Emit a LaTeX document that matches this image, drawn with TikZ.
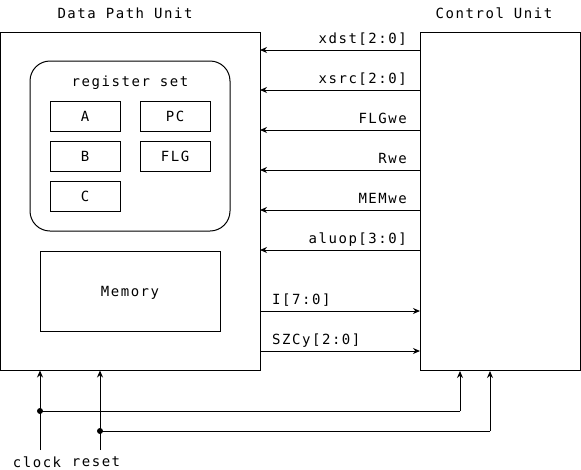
\documentclass[tikz,border=0pt]{standalone}
\usepackage{fontspec}
\newfontfamily\monof[LetterSpace=11]{DejaVu Sans Mono}
\usetikzlibrary{arrows.meta}
\begin{document}
\begin{tikzpicture}[x=1pt,y=-1pt,
  every node/.style={font=\monof\fontsize{14}{16}\selectfont, inner sep=0pt},
  reg/.style={draw, line width=1pt, minimum width=70pt, minimum height=30pt},
  arr/.style={line width=1pt, -{Stealth[length=7pt,width=6pt]}},
  wire/.style={line width=1pt},
  dot/.style={circle, fill, minimum size=6pt, inner sep=0pt},
  lbl/.style={anchor=base east},
  lblr/.style={anchor=base west}]
\useasboundingbox (0,0) rectangle (581,469);
% titles
\node (tdpu) at (125,13) {Data Path Unit};
\node (tcu) at (494,13) {Control Unit};
% main boxes
\node[draw, line width=1pt, minimum width=260pt, minimum height=338pt] (dpu) at (130,201) {};
\node[draw, line width=1pt, minimum width=160pt, minimum height=338pt] (cu) at (500,201.5) {};
% register set
\node[draw, line width=1pt, rounded corners=20pt, minimum width=200pt, minimum height=170pt] (rs) at (130,146) {};
\node (rst) at (130,83) {register set};
\node[reg] (A) at (85,116) {A};
\node[reg] (PC) at (175,116) {PC};
\node[reg] (B) at (85,156) {B};
\node[reg] (FLG) at (175,156) {FLG};
\node[reg] (C) at (85,196) {C};
% memory
\node[draw, line width=1pt, minimum width=180pt, minimum height=80pt] (mem) at (130,291) {};
\node (memt) at (130,293) {Memory};
% control signals
\foreach \y/\t/\n in {50/xdst[2:0]/s1, 90/xsrc[2:0]/s2, 130/FLGwe/s3, 170/Rwe/s4, 210/MEMwe/s5, 250/aluop[3:0]/s6} {
  \coordinate (\n a) at (420,\y);
  \coordinate (\n b) at (260,\y);
  \draw[arr] (\n a) -- (\n b);
  \node[lbl] (\n l) at (407,\y-7) {\t};
}
% status signals
\foreach \y/\t/\n in {311/I[7:0]/r1, 351/SZCy[2:0]/r2} {
  \coordinate (\n a) at (260,\y);
  \coordinate (\n b) at (420,\y);
  \draw[arr] (\n a) -- (\n b);
  \node[lblr] (\n l) at (272,\y-7) {\t};
}
% clock and reset
\coordinate (clk) at (40,450);
\coordinate (rstc) at (100,450);
\node[dot] (dc) at (40,411) {};
\node[dot] (dr) at (100,431) {};
\coordinate (cuc) at (460,411);
\coordinate (cur) at (490,431);
\draw[arr] (clk) -- (dpu.south -| clk);
\draw[arr] (rstc) -- (dpu.south -| rstc);
\draw[wire] (dc.center) -- (cuc);
\draw[arr] (cuc) -- (cu.south -| cuc);
\draw[wire] (dr.center) -- (cur);
\draw[arr] (cur) -- (cu.south -| cur);
\node (lclk) at (37,462) {clock};
\node (lrst) at (96,462) {reset};
\end{tikzpicture}
\end{document}
